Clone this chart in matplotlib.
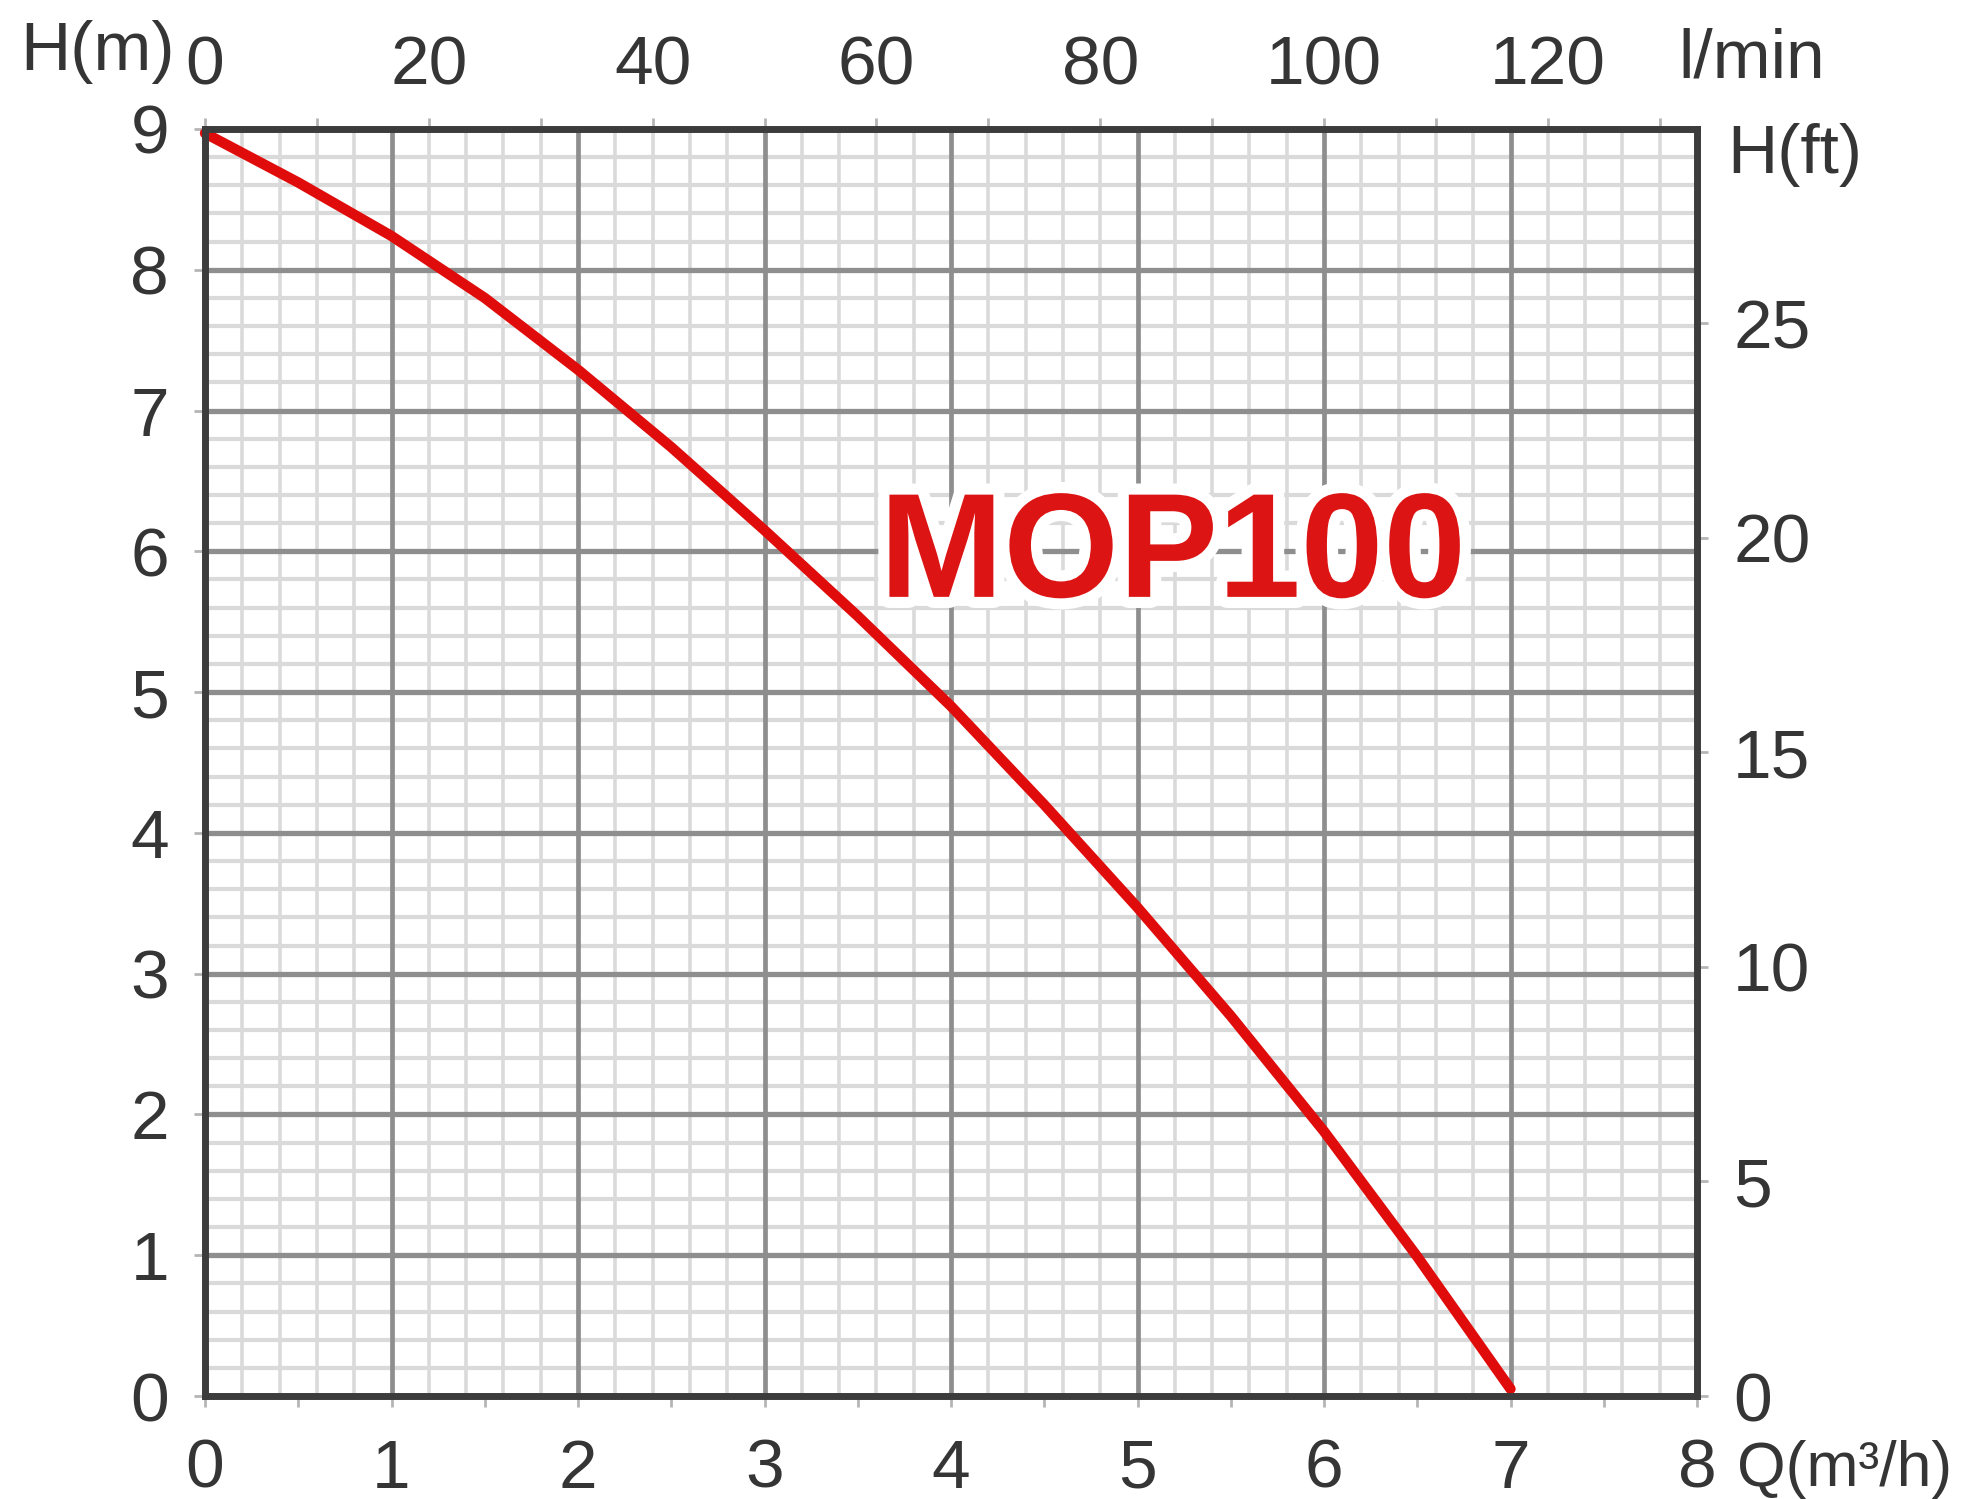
import numpy as np
import matplotlib
matplotlib.use("Agg")
import matplotlib.pyplot as plt
from matplotlib import patheffects as pe

# ---- data ----
flow_m3h = [0.0, 0.5, 1.0, 1.5, 2.0, 2.5, 3.0, 3.5, 4.0, 4.5, 5.0, 5.5, 6.0, 6.5, 7.0]
head_m = [8.97, 8.62, 8.24, 7.80, 7.29, 6.74, 6.15, 5.54, 4.90, 4.20, 3.47, 2.70, 1.88, 0.99, 0.05]
q_ticks = [0, 1, 2, 3, 4, 5, 6, 7, 8]
h_ticks = [0, 1, 2, 3, 4, 5, 6, 7, 8, 9]
lpm_ticks = [0, 20, 40, 60, 80, 100, 120]
ft_ticks = [0, 5, 10, 15, 20, 25]
model_name = "MOP100"

plt.rcParams['font.family'] = ['Liberation Sans', 'DejaVu Sans']

W, H = 1969, 1499
fig = plt.figure(figsize=(W / 100, H / 100), dpi=100)
fig.patch.set_facecolor('white')

L, R, T, B = 205, 1697, 129, 1396
ax = fig.add_axes([L / W, 1 - B / H, (R - L) / W, (B - T) / H])
ax.set_xlim(0, 8)
ax.set_ylim(0, 9)

txt_col = '#353535'
tick_col = '#b5b5b5'
FS = 50

# grid
minor_col = '#dadada'
major_col = '#8e8e8e'
for xv in np.arange(0, 8.001, 0.2):
    if abs(xv - round(xv)) > 1e-6:
        ax.axvline(xv, color=minor_col, lw=2.6, zorder=1)
for yv in np.arange(0, 9.001, 0.2):
    if abs(yv - round(yv)) > 1e-6:
        ax.axhline(yv, color=minor_col, lw=3.0, zorder=1)
for xv in q_ticks:
    ax.axvline(xv, color=major_col, lw=3.4, zorder=2)
for yv in h_ticks:
    ax.axhline(yv, color=major_col, lw=3.8, zorder=2)

# curve
ax.plot(flow_m3h, head_m, color='#e00c0c', lw=7.5, solid_capstyle='round',
        solid_joinstyle='round', zorder=5, clip_on=False)

# model label
ax.text(5.19, 5.95, model_name, color='#dd1414', fontsize=107, fontweight='bold',
        ha='center', va='center', zorder=6,
        path_effects=[pe.withStroke(linewidth=16, foreground='white')])

# spines
for s in ax.spines.values():
    s.set_color('#3c3c3c')
    s.set_linewidth(5)
    s.set_zorder(7)

# bottom / left ticks
ax.set_xticks(q_ticks)
ax.set_xticks(np.arange(0, 8.01, 0.5), minor=True)
ax.set_yticks(h_ticks)
ax.set_yticks([], minor=True)
ax.tick_params(axis='x', which='both', direction='out', length=8, width=2,
               color=tick_col, labelsize=FS, labelcolor=txt_col, pad=22)
ax.tick_params(axis='y', which='both', direction='out', length=8, width=2,
               color=tick_col, labelsize=FS, labelcolor=txt_col, pad=18)

# top axis: l/min
secx = ax.secondary_xaxis('top', functions=(lambda q: q * 1000 / 60, lambda l: l * 60 / 1000))
secx.set_xticks(lpm_ticks)
secx.set_xticks(np.arange(0, 131, 10), minor=True)
secx.tick_params(which='both', direction='out', length=8, width=2, color=tick_col,
                 labelsize=FS, labelcolor=txt_col, pad=14)
for s in secx.spines.values():
    s.set_visible(False)

# right axis: ft
secy = ax.secondary_yaxis('right', functions=(lambda m: m * 3.28084, lambda f: f / 3.28084))
secy.set_yticks(ft_ticks)
secy.tick_params(which='both', direction='out', length=8, width=2, color=tick_col,
                 labelsize=FS, labelcolor=txt_col, pad=18)
for s in secy.spines.values():
    s.set_visible(False)

# unit labels
def ftxt(x, y, s, fs=FS, **kw):
    fig.text(x / W, 1 - y / H, s, fontsize=fs, color=txt_col, va='baseline', ha='left', **kw)

ftxt(20, 70, "H(m)")
ftxt(1678, 78, "l/min")
ftxt(1727, 173, "H(ft)")
ftxt(1737, 1486, "Q(m³/h)", fs=45)

fig.savefig('out.png', dpi=100, facecolor='white')
